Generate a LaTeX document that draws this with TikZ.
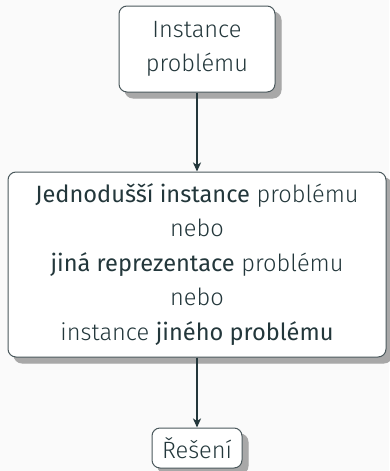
\documentclass[tikz,border=0pt]{standalone}
\usepackage{fontspec}
\setmainfont{Fira Sans Light}[BoldFont={Fira Sans}]
\usetikzlibrary{shapes.geometric, arrows, arrows.meta, positioning, shadows}
\definecolor{mDarkTeal}{HTML}{23373B}
\definecolor{boxline}{HTML}{4A585C}
\definecolor{pagebg}{HTML}{FAFAFA}
\definecolor{shadowgray}{HTML}{A8A8A8}
\tikzstyle{stepbox} = [rectangle, rounded corners=8pt, draw=boxline, line width=1pt, fill=white, text=mDarkTeal, align=center, font=\fontsize{23.6}{34.5}\selectfont, copy shadow={shadow xshift=6pt, shadow yshift=-6pt, fill=shadowgray, draw=shadowgray}]
\tikzstyle{arrow} = [line width=1.8pt, draw=mDarkTeal, -{Stealth[length=9pt, width=8pt, inset=2.5pt]}]

\begin{document}
\begin{tikzpicture}[x=1pt, y=1pt]
        \fill[pagebg] (0,0) rectangle (389,-471);
        \useasboundingbox (0,0) rectangle (389,-471);
        \node[stepbox, minimum width=156pt, minimum height=86pt] (instance) at (197,-49) {Instance\\problému};
        \node[stepbox, minimum width=378pt, minimum height=185pt, below=79pt of instance] (reduce) {\textbf{Jednodušší instance} problému\\nebo\\\textbf{jiná reprezentace} problému\\nebo\\instance \textbf{jiného problému}};
        \node[stepbox, minimum width=90pt, minimum height=40pt, inner sep=3pt, below=70pt of reduce] (solution) {Řešení};
        \draw[arrow] (instance) -- (reduce);
        \draw[arrow] (reduce) -- (solution);
    \end{tikzpicture}
\end{document}
